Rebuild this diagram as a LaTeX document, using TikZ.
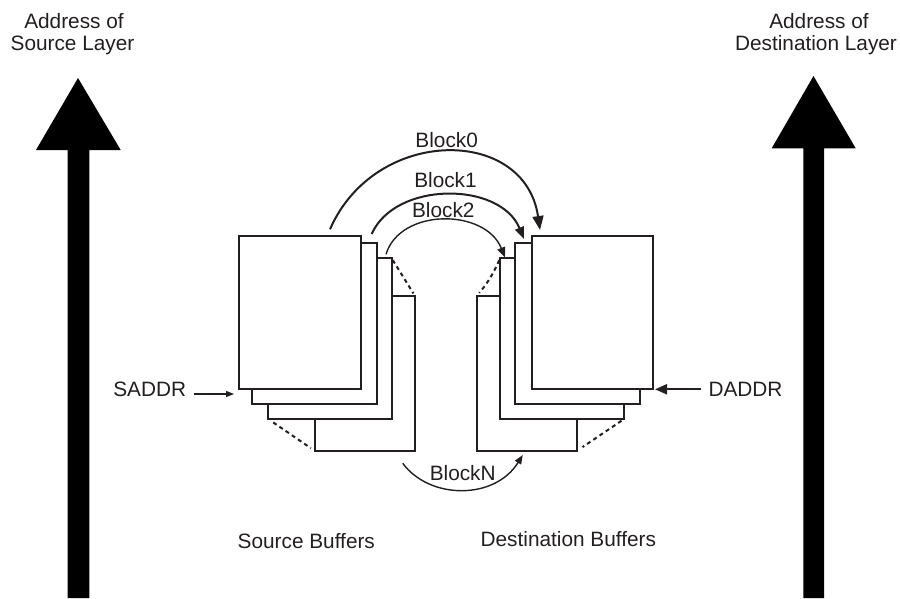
\documentclass[tikz,border=0pt]{standalone}
\usepackage{fontspec}
\setmainfont{Liberation Sans}
\usetikzlibrary{arrows.meta}
\definecolor{ink}{HTML}{231F20}
\begin{document}
\begin{tikzpicture}[x=1pt,y=-1pt,
  buf/.style={draw=ink,line width=2pt,fill=white,inner sep=0pt,outer sep=0pt},
  lbl/.style={text=ink,font=\fontsize{20.8}{24}\selectfont,anchor=base,inner sep=0pt},
  dsh/.style={draw=ink,line width=2pt,dash pattern=on 4pt off 3.5pt},
  arc/.style={draw=ink,line width=2pt},
  bigarrow/.style={fill=black,draw=none}]
\useasboundingbox (0,0) rectangle (900,598);
% big arrows
\fill[bigarrow] (78,78) -- (120.7,150) -- (89.3,150) -- (89.3,598) -- (67.7,598) -- (67.7,150) -- (36,150) -- cycle;
\fill[bigarrow] (813.5,76) -- (855.7,148.3) -- (824,148.3) -- (824,598) -- (803.3,598) -- (803.3,148.3) -- (771.7,148.3) -- cycle;
\node[lbl] (asl1) at (74,28) {Address of};
\node[lbl] (asl2) at (72.5,50) {Source Layer};
\node[lbl] (adl1) at (819,28) {Address of};
\node[lbl] (adl2) at (816,50) {Destination Layer};
% source buffers
\node[buf,minimum width=100pt,minimum height=155pt] (s3) at (365,373.5) {};
\node[buf,minimum width=123.4pt,minimum height=160.7pt] (s2) at (330,338.7) {};
\node[buf,minimum width=124.4pt,minimum height=161pt] (s1) at (314.5,323.8) {};
\node[buf,minimum width=121.4pt,minimum height=153.3pt] (s0) at (300,312.7) {};
% destination buffers
\node[buf,minimum width=100pt,minimum height=155pt] (d3) at (526.7,373.5) {};
\node[buf,minimum width=124pt,minimum height=160.7pt] (d2) at (562,338.7) {};
\node[buf,minimum width=125pt,minimum height=161pt] (d1) at (577.5,323.8) {};
\node[buf,minimum width=121pt,minimum height=153.3pt] (d0) at (592.2,312.7) {};
% dashed links
\draw[dsh,shorten <=2pt,shorten >=3pt] (s2.north east) -- (s3.north east);
\draw[dsh,shorten <=6pt,shorten >=5pt] (s2.south west) -- (s3.south west);
\draw[dsh,shorten <=2pt,shorten >=4pt] (d2.north west) to[bend left=8] (d3.north west);
\draw[dsh,shorten <=3pt,shorten >=7pt] (d2.south east) -- (d3.south east);
% arcs
\coordinate (b0s) at (330,229.3);
\coordinate (b0e) at (540,230);
\coordinate (b1s) at (371.7,234);
\coordinate (b1e) at (524,239);
\coordinate (b2s) at (386,254.3);
\coordinate (b2e) at (505,257.3);
\coordinate (bNs) at (402.7,463.3);
\coordinate (bNe) at (522.7,455);
\draw[arc,-{Triangle[length=14pt,width=11pt]}] (b0s) .. controls (375,126) and (525,126) .. (b0e);
\draw[arc,-{Triangle[length=12pt,width=9pt]}] (b1s) .. controls (395,181) and (500,181) .. (b1e);
\draw[arc,line width=1.4pt,-{Triangle[length=10pt,width=8pt]}] (b2s) .. controls (400,208) and (485,208) .. (b2e);
\draw[arc,line width=1.4pt,-{Triangle[length=9pt,width=7pt]}] (bNs) .. controls (430,500) and (495,500) .. (bNe);
\node[lbl] (l0) at (446.7,147.7) {Block0};
\node[lbl] (l1) at (445.5,187.7) {Block1};
\node[lbl] (l2) at (443.3,217.7) {Block2};
\node[lbl] (lN) at (462.7,480.7) {BlockN};
% address pointers
\node[lbl] (sa) at (149.7,396.7) {SADDR};
\node[lbl] (da) at (745.5,396.7) {DADDR};
\coordinate (saS) at (194,394);
\coordinate (saE) at (234,394);
\coordinate (daS) at (700.7,389.3);
\coordinate (daE) at (655,389.3);
\draw[draw=ink,line width=1.2pt,-{Triangle[length=8pt,width=6pt]}] (saS) -- (saE);
\draw[draw=ink,line width=2pt,-{Triangle[length=12pt,width=10pt]}] (daS) -- (daE);
% captions
\node[lbl] (sb) at (306.3,548.3) {Source Buffers};
\node[lbl] (db) at (568.3,546) {Destination Buffers};
\end{tikzpicture}
\end{document}
